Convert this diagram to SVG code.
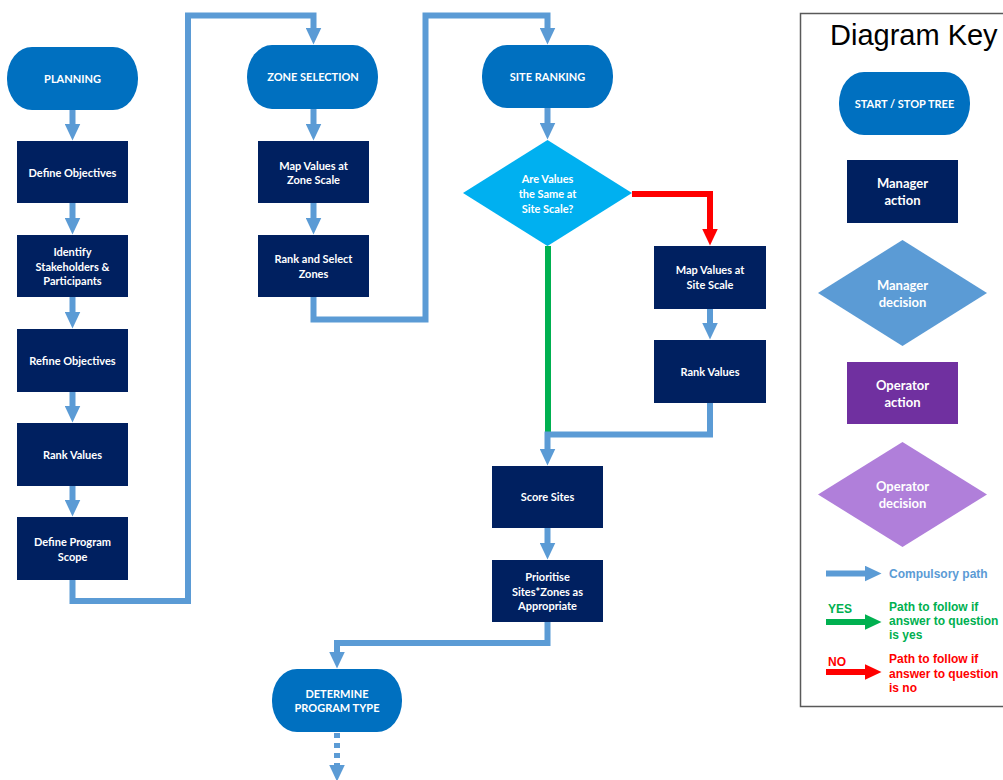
<svg xmlns="http://www.w3.org/2000/svg" width="1003" height="780" viewBox="0 0 1003 780">
<style>
.stad{fill:#0070c0}
.mgr{fill:#002060}
.dec{fill:#00b0f0}
.t{font-family:Lato,"Open Sans",sans-serif;font-weight:bold;font-size:11px;fill:#fff;text-anchor:middle}
.tk{font-family:Lato,"Open Sans",sans-serif;font-weight:bold;font-size:13px;fill:#fff;text-anchor:middle}
.c{fill:none;stroke:#5b9bd5;stroke-width:6;stroke-linejoin:miter;stroke-linecap:butt}
.g{fill:none;stroke:#00b050;stroke-width:6}
.r{fill:none;stroke:#ff0000;stroke-width:6}
.kt{font-family:"Liberation Sans",Arial,sans-serif;font-weight:bold;font-size:12px}
</style>
<defs>
<marker id="ab" viewBox="0 0 17 16" refX="0.5" refY="8" markerWidth="17" markerHeight="16" markerUnits="userSpaceOnUse" orient="auto"><path d="M0,0 L17,8 L0,16 z" fill="#5b9bd5"/></marker>
<marker id="ag" viewBox="0 0 17 16" refX="0.5" refY="8" markerWidth="17" markerHeight="16" markerUnits="userSpaceOnUse" orient="auto"><path d="M0,0 L17,8 L0,16 z" fill="#00b050"/></marker>
<marker id="ar" viewBox="0 0 17 16" refX="0.5" refY="8" markerWidth="17" markerHeight="16" markerUnits="userSpaceOnUse" orient="auto"><path d="M0,0 L17,8 L0,16 z" fill="#ff0000"/></marker>
</defs>
<rect width="1003" height="780" fill="#fff"/>

<g id="connectors">
<path class="c" d="M72.5,110 V124" marker-end="url(#ab)"/>
<path class="c" d="M72.5,203 V218" marker-end="url(#ab)"/>
<path class="c" d="M72.5,297 V312" marker-end="url(#ab)"/>
<path class="c" d="M72.5,392 V406" marker-end="url(#ab)"/>
<path class="c" d="M72.5,486 V500" marker-end="url(#ab)"/>
<path class="c" d="M72.5,580 V601 H188 V15.5 H313.5 V28" marker-end="url(#ab)"/>
<path class="c" d="M313.5,109 V124" marker-end="url(#ab)"/>
<path class="c" d="M313.5,203 V218" marker-end="url(#ab)"/>
<path class="c" d="M313.5,297 V319.5 H425.5 V15.5 H547.5 V28" marker-end="url(#ab)"/>
<path class="c" d="M547.5,108 V123" marker-end="url(#ab)"/>
<path class="r" d="M632,194 H710 V229" marker-end="url(#ar)"/>
<path class="c" d="M710,309 V323" marker-end="url(#ab)"/>
<path class="g" d="M548,246 V432"/>
<path class="c" d="M710,403 V434.5 H547.5 V449" marker-end="url(#ab)"/>
<path class="c" d="M547.5,528 V543" marker-end="url(#ab)"/>
<path class="c" d="M547.5,622 V643 H337 V652" marker-end="url(#ab)"/>
<path class="c" d="M337,733 V765" stroke-dasharray="5,5" marker-end="url(#ab)"/>
</g>

<g id="planning"><rect class="stad" x="7" y="47" width="131" height="63" rx="25" ry="31"/><text class="t" x="72.5" y="83">PLANNING</text></g>
<g id="define-objectives"><rect class="mgr" x="17" y="141" width="111" height="62"/><text class="t" x="72.5" y="176.5">Define Objectives</text></g>
<g id="identify"><rect class="mgr" x="17" y="235" width="111" height="62"/><text class="t" x="72.5" y="256">Identify</text><text class="t" x="72.5" y="270.5">Stakeholders &amp;</text><text class="t" x="72.5" y="285">Participants</text></g>
<g id="refine-objectives"><rect class="mgr" x="17" y="329" width="111" height="63"/><text class="t" x="72.5" y="365">Refine Objectives</text></g>
<g id="rank-values-1"><rect class="mgr" x="17" y="423" width="111" height="63"/><text class="t" x="72.5" y="459">Rank Values</text></g>
<g id="define-program-scope"><rect class="mgr" x="17" y="517" width="111" height="63"/><text class="t" x="72.5" y="545.5">Define Program</text><text class="t" x="72.5" y="560.5">Scope</text></g>

<g id="zone-selection"><rect class="stad" x="247" y="45" width="131" height="64" rx="25" ry="32"/><text class="t" x="313" y="81">ZONE SELECTION</text></g>
<g id="map-zone"><rect class="mgr" x="258" y="141" width="111" height="62"/><text class="t" x="313.5" y="169.5">Map Values at</text><text class="t" x="313.5" y="184">Zone Scale</text></g>
<g id="rank-select-zones"><rect class="mgr" x="258" y="235" width="111" height="62"/><text class="t" x="313.5" y="263">Rank and Select</text><text class="t" x="313.5" y="278">Zones</text></g>

<g id="site-ranking"><rect class="stad" x="482" y="45" width="131" height="63" rx="25" ry="31"/><text class="t" x="547.5" y="81">SITE RANKING</text></g>
<g id="decision"><polygon class="dec" points="547.5,140 632,193 547.5,246 463,193"/><text class="t" x="547.5" y="183">Are Values</text><text class="t" x="547.5" y="198">the Same at</text><text class="t" x="547.5" y="212.5">Site Scale?</text></g>
<g id="map-site"><rect class="mgr" x="654" y="246" width="112" height="63"/><text class="t" x="710" y="274">Map Values at</text><text class="t" x="710" y="289">Site Scale</text></g>
<g id="rank-values-2"><rect class="mgr" x="654" y="340" width="112" height="63"/><text class="t" x="710" y="375.5">Rank Values</text></g>
<g id="score-sites"><rect class="mgr" x="492" y="466" width="111" height="62"/><text class="t" x="547.5" y="501">Score Sites</text></g>
<g id="prioritise"><rect class="mgr" x="492" y="560" width="111" height="62"/><text class="t" x="547.5" y="580.5">Prioritise</text><text class="t" x="547.5" y="595.5">Sites*Zones as</text><text class="t" x="547.5" y="610">Appropriate</text></g>
<g id="determine"><rect class="stad" x="272" y="669" width="130" height="63" rx="25" ry="31"/><text class="t" x="337" y="698">DETERMINE</text><text class="t" x="337" y="712">PROGRAM TYPE</text></g>

<g id="key">
<rect x="800.5" y="13.5" width="220" height="693" fill="none" stroke="#595959" stroke-width="1.5"/>
<text x="830" y="45" font-family="'Liberation Sans',Arial,sans-serif" font-size="29" fill="#000">Diagram Key</text>
<rect class="stad" x="839" y="72" width="131" height="63" rx="25" ry="31"/><text class="t" x="904.5" y="108">START / STOP TREE</text>
<rect class="mgr" x="847" y="160" width="111" height="63"/><text class="tk" x="902.5" y="188">Manager</text><text class="tk" x="902.5" y="205">action</text>
<polygon fill="#5b9bd5" points="902.5,240 987,293 902.5,346 818,293"/><text class="tk" x="902.5" y="290">Manager</text><text class="tk" x="902.5" y="307">decision</text>
<rect fill="#7030a0" x="847" y="362" width="111" height="62"/><text class="tk" x="902.5" y="390">Operator</text><text class="tk" x="902.5" y="407">action</text>
<polygon fill="#b07fda" points="902.5,442 987,494.5 902.5,547 818,494.5"/><text class="tk" x="902.5" y="491">Operator</text><text class="tk" x="902.5" y="508">decision</text>
<path class="c" d="M826,573.5 H865" marker-end="url(#ab)"/>
<text class="kt" x="889" y="577.5" fill="#5b9bd5">Compulsory path</text>
<text class="kt" x="828" y="613" fill="#00b050">YES</text>
<path class="g" d="M826,622 H865" marker-end="url(#ag)"/>
<text class="kt" x="889" y="611" fill="#00b050">Path to follow if</text>
<text class="kt" x="889" y="625" fill="#00b050">answer to question</text>
<text class="kt" x="889" y="639" fill="#00b050">is yes</text>
<text class="kt" x="828" y="666" fill="#ff0000">NO</text>
<path class="r" d="M826,672 H865" marker-end="url(#ar)"/>
<text class="kt" x="889" y="663" fill="#ff0000">Path to follow if</text>
<text class="kt" x="889" y="677.5" fill="#ff0000">answer to question</text>
<text class="kt" x="889" y="692" fill="#ff0000">is no</text>
</g>
</svg>
